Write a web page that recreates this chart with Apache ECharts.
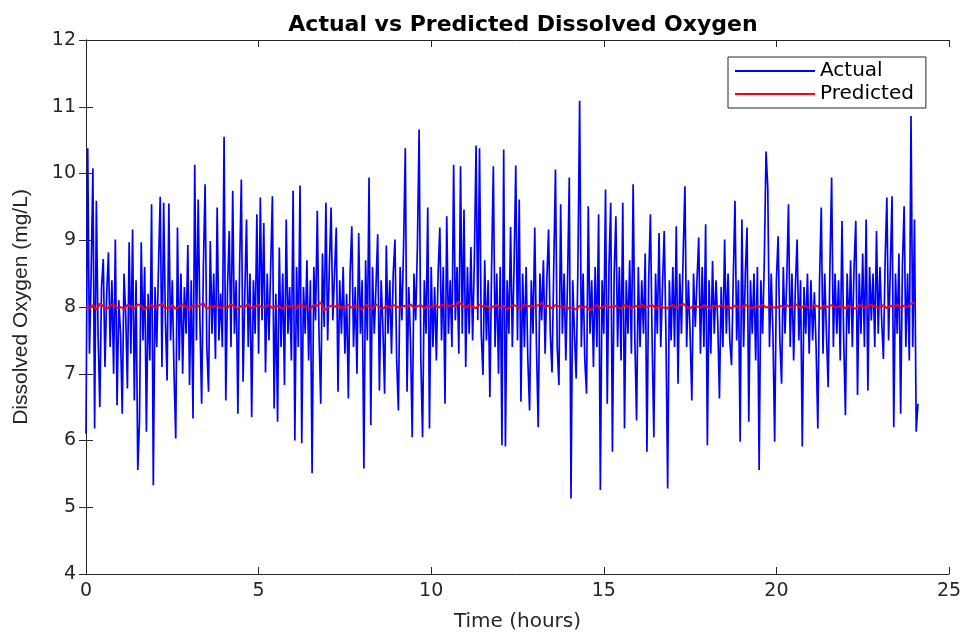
<!DOCTYPE html>
<html>
<head>
<meta charset="utf-8">
<title>Actual vs Predicted Dissolved Oxygen</title>
<script src="https://cdn.jsdelivr.net/npm/echarts@6/dist/echarts.min.js"></script>
<style>
  html, body { margin: 0; padding: 0; background: #fff; }
  #chart { width: 971px; height: 637px; }
</style>
</head>
<body>
<div id="chart"></div>
<script>
  // sample spacing (hours) of the two series
  const actualStep = 0.05;
  const predictedStep = 0.1;

  // measured dissolved oxygen (mg/L), one value every 3 minutes
  const actualDO = [
    6.10, 10.38, 7.30, 8.50, 10.08, 6.18, 9.59, 7.60, 6.50, 8.30, 8.72, 7.10, 8.20, 8.82, 7.40, 8.40, 7.00, 9.01, 6.53, 8.10,
    7.60, 6.40, 8.50, 7.90, 6.78, 8.97, 7.30, 9.16, 6.60, 8.40, 5.56, 6.30, 8.97, 7.50, 8.60, 6.13, 8.20, 7.20, 9.54, 5.33,
    8.30, 7.40, 8.60, 9.65, 7.10, 9.56, 7.80, 6.90, 9.55, 7.50, 8.40, 7.00, 6.03, 9.19, 7.20, 8.50, 7.00, 8.30, 7.60, 8.93,
    6.83, 8.40, 6.33, 10.13, 7.50, 9.61, 7.80, 6.55, 8.60, 9.84, 7.40, 6.73, 8.99, 7.60, 8.50, 7.22, 9.49, 7.50, 8.20, 7.40,
    10.55, 6.60, 8.30, 9.14, 7.40, 9.74, 7.60, 8.40, 6.40, 8.60, 9.91, 6.88, 8.20, 9.31, 7.40, 8.50, 6.35, 8.40, 7.60, 9.39,
    7.30, 9.64, 7.80, 9.26, 7.02, 8.50, 7.50, 8.60, 9.66, 6.48, 8.20, 6.28, 8.89, 7.40, 8.50, 6.83, 9.31, 7.60, 8.30, 7.20,
    9.74, 6.00, 8.60, 7.40, 9.82, 5.96, 8.30, 7.60, 8.70, 7.20, 8.40, 5.51, 8.60, 7.80, 9.44, 7.60, 6.55, 8.80, 7.70, 9.56,
    7.50, 8.60, 9.49, 7.80, 8.50, 9.19, 6.73, 8.40, 7.60, 8.60, 7.30, 8.20, 6.63, 8.50, 9.21, 7.40, 8.30, 7.00, 9.11, 7.60,
    8.40, 5.58, 8.70, 7.50, 9.94, 6.23, 8.60, 7.60, 8.30, 9.09, 6.75, 8.40, 7.70, 6.70, 8.92, 7.60, 8.40, 7.30, 8.50, 9.01,
    7.20, 6.45, 8.60, 7.80, 8.90, 10.38, 6.73, 8.30, 7.50, 6.05, 8.50, 7.80, 8.90, 10.66, 7.20, 6.05, 8.40, 7.60, 9.49, 6.18,
    8.60, 7.40, 8.30, 7.20, 8.50, 9.19, 7.50, 8.60, 6.55, 9.36, 7.60, 8.40, 7.40, 10.13, 7.80, 8.60, 7.30, 10.11, 7.60, 9.46,
    7.10, 8.60, 7.60, 8.90, 7.50, 8.70, 10.42, 7.80, 10.38, 7.60, 6.98, 8.70, 7.50, 8.40, 6.65, 8.60, 10.11, 7.40, 8.50, 7.00,
    8.60, 5.93, 10.36, 5.91, 8.40, 7.60, 9.20, 7.40, 8.60, 10.12, 7.50, 9.61, 6.58, 8.50, 7.40, 8.60, 7.20, 6.45, 8.40, 7.60,
    9.19, 7.40, 6.20, 8.50, 7.80, 8.70, 7.30, 8.40, 9.16, 7.60, 7.02, 8.60, 10.06, 7.40, 6.83, 9.54, 7.60, 8.50, 7.20, 8.40,
    9.94, 5.13, 8.40, 7.60, 6.93, 8.60, 11.09, 7.40, 8.50, 7.20, 6.70, 9.51, 7.60, 8.40, 7.10, 8.60, 7.40, 9.39, 5.26, 8.40,
    7.60, 9.76, 6.55, 8.60, 9.56, 5.83, 8.50, 9.36, 7.40, 8.60, 7.20, 9.56, 6.18, 8.40, 7.60, 8.70, 7.30, 9.84, 7.50, 6.30,
    8.60, 7.40, 8.40, 7.60, 8.80, 5.83, 8.40, 9.39, 7.50, 6.05, 8.50, 7.60, 9.11, 7.40, 8.30, 9.14, 7.60, 5.28, 8.40, 7.50,
    8.60, 7.40, 9.21, 6.85, 8.50, 7.60, 8.80, 9.81, 7.40, 8.40, 7.60, 6.60, 8.50, 7.70, 8.40, 9.04, 7.30, 8.60, 7.40, 9.24,
    5.93, 8.40, 7.30, 8.69, 7.60, 8.40, 7.80, 6.63, 8.30, 7.40, 9.01, 7.60, 8.50, 7.50, 7.13, 8.40, 9.59, 7.50, 8.40, 5.98,
    9.31, 7.40, 8.50, 9.19, 6.28, 8.40, 7.60, 8.50, 7.20, 8.60, 5.56, 8.40, 7.60, 8.70, 10.33, 9.79, 7.40, 8.50, 7.60, 5.98,
    8.40, 9.06, 7.50, 6.85, 8.60, 7.60, 8.40, 9.54, 7.40, 8.50, 7.20, 8.30, 9.01, 7.50, 8.40, 5.91, 8.30, 7.60, 8.50, 7.30,
    8.40, 7.50, 8.22, 7.40, 6.18, 8.40, 9.49, 7.30, 8.50, 7.60, 6.80, 8.60, 9.94, 7.40, 8.50, 7.60, 8.40, 7.20, 9.29, 7.50,
    6.38, 8.50, 7.60, 8.70, 7.40, 8.60, 9.29, 6.68, 8.50, 7.60, 8.80, 7.40, 9.31, 6.75, 8.60, 7.80, 8.50, 7.40, 9.14, 7.60,
    8.60, 7.80, 7.22, 8.70, 9.64, 7.50, 8.60, 9.66, 6.20, 8.50, 7.60, 8.80, 6.40, 8.60, 9.51, 7.40, 8.50, 7.20, 10.86, 7.40,
    9.31, 6.13, 6.55
  ];

  // model output (mg/L), one value every 6 minutes
  const predictedDO = [
    8.00, 7.98, 8.03, 7.96, 8.05, 8.01, 7.97, 8.02, 8.04, 7.99,
    8.00, 7.97, 8.03, 8.01, 7.98, 8.04, 8.02, 7.96, 8.01, 8.03,
    7.99, 8.02, 8.05, 7.98, 8.00, 8.03, 7.97, 8.01, 8.04, 8.00,
    7.98, 8.02, 7.99, 8.03, 8.06, 7.97, 8.01, 8.00, 8.03, 7.98,
    8.02, 7.99, 8.04, 8.01, 7.97, 8.02, 8.00, 8.05, 7.98, 8.01,
    8.03, 7.99, 8.00, 8.04, 7.98, 8.02, 8.01, 7.97, 8.03, 8.00,
    8.02, 7.98, 8.05, 8.01, 8.00, 7.97, 8.03, 8.02, 8.07, 7.95,
    7.99, 8.02, 8.00, 8.04, 7.98, 8.01, 8.03, 7.99, 8.02, 8.00,
    7.96, 8.03, 8.01, 7.98, 8.04, 8.00, 7.97, 8.02, 7.99, 8.03,
    8.01, 7.98, 8.02, 8.00, 8.04, 7.99, 8.01, 8.03, 7.98, 8.02,
    8.00, 8.04, 7.99, 8.02, 8.05, 8.01, 8.03, 8.00, 8.08, 8.02,
    7.99, 8.03, 8.01, 7.98, 8.04, 8.00, 8.02, 7.97, 8.01, 8.03,
    7.99, 8.02, 7.96, 8.01, 8.03, 8.00, 7.98, 8.04, 8.01, 8.02,
    7.99, 8.03, 8.06, 8.00, 8.02, 7.98, 8.03, 8.01, 7.99, 8.02,
    7.97, 8.00, 7.96, 8.02, 7.99, 8.01, 7.95, 8.00, 8.03, 7.98,
    8.01, 8.03, 7.99, 8.02, 8.00, 7.97, 8.03, 8.01, 7.98, 8.02,
    8.00, 8.04, 7.99, 8.01, 8.03, 7.98, 8.02, 8.00, 7.97, 8.01,
    8.03, 7.99, 8.02, 8.05, 8.00, 7.98, 8.02, 8.01, 7.99, 8.03,
    8.00, 7.98, 8.02, 8.00, 8.03, 7.99, 8.01, 7.98, 8.02, 8.00,
    7.99, 8.03, 8.01, 7.98, 8.02, 8.00, 8.04, 7.99, 8.01, 8.00,
    7.98, 8.02, 8.00, 8.03, 7.99, 8.01, 8.04, 7.98, 8.02, 8.00,
    7.99, 8.03, 8.01, 7.98, 8.02, 8.00, 8.03, 7.99, 8.01, 8.02,
    7.98, 8.02, 8.00, 7.97, 8.03, 8.01, 7.99, 8.04, 8.02, 8.00,
    7.99, 8.03, 7.98, 8.02, 8.01, 8.04, 7.99, 8.02, 8.00, 8.05,
    8.07
  ];

  const seriesNames = ['Actual', 'Predicted'];
  const xTicks = [0, 25, 5];   // min, max, interval
  const yTicks = [4, 12, 1];

  const axisColor = '#262626';
  const wideFont = '"DejaVu Sans", Verdana, sans-serif';
  const font = '"Liberation Sans", Arial, sans-serif';

  const actualPts = actualDO.map((v, i) => [+(i * actualStep).toFixed(2), v]);
  const predictedPts = predictedDO.map((v, i) => [+(i * predictedStep).toFixed(2), v]);

  const chart = echarts.init(document.getElementById('chart'), null, { renderer: 'canvas' });

  const frameAxis = {
    axisLine: { show: true, lineStyle: { color: axisColor, width: 1 } },
    axisTick: { show: true, inside: true, length: 7, lineStyle: { color: axisColor } },
    splitLine: { show: false }
  };

  chart.setOption({
    animation: false,
    backgroundColor: '#fff',
    title: {
      text: 'Actual vs Predicted Dissolved Oxygen',
      left: 518,
      top: 9,
      textAlign: 'center',
      textStyle: { fontFamily: wideFont, fontWeight: 'bold', fontSize: 22, color: '#000' }
    },
    legend: {
      data: seriesNames,
      icon: 'rect',
      orient: 'vertical',
      left: 728,
      top: 57,
      padding: [4, 12, 4, 7],
      itemGap: 3,
      itemWidth: 80,
      itemHeight: 2,
      backgroundColor: '#fff',
      borderColor: axisColor,
      borderWidth: 1,
      textStyle: { fontFamily: wideFont, fontSize: 20, color: '#000', lineHeight: 20 }
    },
    grid: { left: 86, right: 22, top: 40, bottom: 62 },
    xAxis: [
      Object.assign({
        type: 'value',
        min: xTicks[0], max: xTicks[1], interval: xTicks[2],
        name: 'Time (hours)',
        nameLocation: 'middle',
        nameGap: 38,
        nameTextStyle: { fontFamily: wideFont, fontSize: 20, color: '#262626' },
        axisLabel: { fontFamily: wideFont, fontSize: 19, color: '#262626', margin: 8 }
      }, frameAxis),
      Object.assign({
        type: 'value', position: 'top',
        min: xTicks[0], max: xTicks[1], interval: xTicks[2],
        axisLabel: { show: false }
      }, frameAxis)
    ],
    yAxis: [
      Object.assign({
        type: 'value',
        min: yTicks[0], max: yTicks[1], interval: yTicks[2],
        name: 'Dissolved Oxygen (mg/L)',
        nameLocation: 'middle',
        nameGap: 54,
        nameTextStyle: { fontFamily: font, fontSize: 21, color: '#262626' },
        axisLabel: { fontFamily: wideFont, fontSize: 19, color: '#262626', margin: 10 }
      }, frameAxis),
      Object.assign({
        type: 'value', position: 'right',
        min: yTicks[0], max: yTicks[1], interval: yTicks[2],
        axisLabel: { show: false }
      }, frameAxis)
    ],
    series: [
      {
        name: seriesNames[0],
        type: 'line',
        data: actualPts,
        showSymbol: false,
        symbol: 'none',
        itemStyle: { color: '#0000ff' },
        lineStyle: { color: '#0000ff', width: 1.7 },
        z: 2
      },
      {
        name: seriesNames[1],
        type: 'line',
        data: predictedPts,
        showSymbol: false,
        symbol: 'none',
        itemStyle: { color: '#ff0000' },
        lineStyle: { color: '#ff0000', width: 2 },
        z: 3
      }
    ]
  });

  window.addEventListener('resize', function () {
    chart.resize();
  });
</script>
</body>
</html>
